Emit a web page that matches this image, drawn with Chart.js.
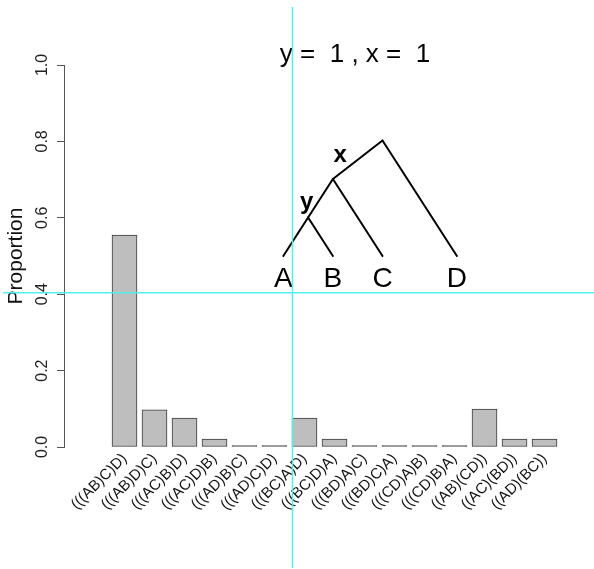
<!DOCTYPE html>
<html>
<head>
<meta charset="utf-8">
<script src="https://cdn.jsdelivr.net/npm/chart.js@4/dist/chart.umd.min.js"></script>
<style>
  html, body { margin: 0; padding: 0; background: #fff; }
  #wrap { width: 594px; height: 569px; }
</style>
</head>
<body>
<div id="wrap"><canvas id="chart" width="594" height="569"></canvas></div>
<script>
// tree topologies and their proportions
var topologies = ["(((AB)C)D)", "(((AB)D)C)", "(((AC)B)D)", "(((AC)D)B)", "(((AD)B)C)", "(((AD)C)D)",
                  "(((BC)A)D)", "(((BC)D)A)", "(((BD)A)C)", "(((BD)C)A)", "(((CD)A)B)", "(((CD)B)A)",
                  "((AB)(CD))", "((AC)(BD))", "((AD)(BC))"];
var proportions = [0.555, 0.097, 0.076, 0.021, 0, 0, 0.076, 0.021, 0, 0, 0, 0, 0.099, 0.021, 0.021];
var yTicks = [0, 0.2, 0.4, 0.6, 0.8, 1.0];

// inset tree (tree units)
var tipNames = ["A", "B", "C", "D"];
var tipX = [0, 2, 4, 7];
var nodeX = [1, 2, 4];   // y node, x node, root
var nodeY = [1, 2, 3];
// edges: [fromX, fromY, toX, toY] built from tips/nodes
var edges = [
    [tipX[0], 0, nodeX[0], nodeY[0]],
    [tipX[1], 0, nodeX[0], nodeY[0]],
    [nodeX[0], nodeY[0], nodeX[1], nodeY[1]],
    [tipX[2], 0, nodeX[1], nodeY[1]],
    [nodeX[1], nodeY[1], nodeX[2], nodeY[2]],
    [tipX[3], 0, nodeX[2], nodeY[2]]
];
var branchNames = ["y", "x"];
var branchLabelX = [0.94, 2.29];
var branchLabelY = [1.21, 2.45];
var branchValues = [1, 1];

var FONT = "'Liberation Sans', Arial, Helvetica, sans-serif";

var insetPlugin = {
    id: 'inset',
    afterDraw: function(chart) {
        var ctx = chart.ctx;
        var ox = 283.3, oy = 256, ux = 24.8, uy = 38.5;
        var px = function(v) { return ox + v * ux; };
        var py = function(v) { return oy - v * uy; };
        ctx.save();
        // title
        ctx.fillStyle = '#000';
        ctx.font = '26px ' + FONT;
        ctx.textAlign = 'center';
        ctx.textBaseline = 'alphabetic';
        var title = branchNames[0] + ' =  ' + branchValues[0] + ' , ' + branchNames[1] + ' =  ' + branchValues[1];
        ctx.fillText(title, 355, 62);
        // tree
        ctx.strokeStyle = '#000';
        ctx.lineWidth = 2;
        ctx.lineCap = 'round';
        edges.forEach(function(e) {
            ctx.beginPath();
            ctx.moveTo(px(e[0]), py(e[1]));
            ctx.lineTo(px(e[2]), py(e[3]));
            ctx.stroke();
        });
        ctx.font = '28px ' + FONT;
        tipNames.forEach(function(n, i) {
            ctx.fillText(n, px(tipX[i]), 286.5);
        });
        ctx.font = 'bold 24px ' + FONT;
        branchNames.forEach(function(n, i) {
            ctx.fillText(n, px(branchLabelX[i]), py(branchLabelY[i]));
        });
        // cyan guide lines
        ctx.strokeStyle = '#55EEEE';
        ctx.lineWidth = 1.5;
        ctx.lineCap = 'butt';
        ctx.beginPath();
        ctx.moveTo(292.5, 7); ctx.lineTo(292.5, 568);
        ctx.moveTo(3, 292.7); ctx.lineTo(594, 292.7);
        ctx.stroke();
        ctx.restore();
    }
};

var ctx = document.getElementById('chart').getContext('2d');
var myChart = new Chart(ctx, {
    type: 'bar',
    data: {
        datasets: [{
            data: proportions.map(function(v, i) { return { x: i + 1, y: v }; }),
            // zero bars show as a flat dark line like R does
            backgroundColor: function(c) { return c.raw && c.raw.y === 0 ? '#3a3a3a' : '#BEBEBE'; },
            borderColor: '#3a3a3a',
            borderWidth: 1,
            borderSkipped: false,
            barThickness: 25,
            minBarLength: 1.5,
            clip: false
        }]
    },
    options: {
        responsive: false,
        devicePixelRatio: 1,
        animation: false,
        layout: { padding: { top: 65, right: 14, bottom: 0, left: 0 } },
        plugins: {
            legend: { display: false },
            tooltip: { enabled: false }
        },
        scales: {
            x: {
                type: 'linear',
                offset: false,
                min: -1.0167,
                max: 16.183,
                grid: { display: false },
                border: { display: false },
                afterBuildTicks: function(scale) {
                    scale.ticks = topologies.map(function(t, i) { return { value: i + 1 }; });
                },
                afterFit: function(scale) { scale.height = 122; },
                ticks: {
                    autoSkip: false,
                    minRotation: 45,
                    maxRotation: 45,
                    padding: -5,
                    color: '#111',
                    font: { family: FONT, size: 15 },
                    callback: function(v) { return topologies[v - 1]; }
                }
            },
            y: {
                min: 0,
                max: 1,
                afterBuildTicks: function(scale) {
                    scale.ticks = yTicks.map(function(v) { return { value: v }; });
                },
                afterFit: function(scale) { scale.width = 64; },
                grid: {
                    drawOnChartArea: false,
                    drawTicks: true,
                    tickLength: 7,
                    color: '#555'
                },
                border: { display: true, color: '#555', width: 1 },
                title: {
                    display: true,
                    text: 'Proportion',
                    color: '#111',
                    font: { family: FONT, size: 21 },
                    padding: { top: 4, bottom: 0 }
                },
                ticks: {
                    minRotation: 90,
                    maxRotation: 90,
                    crossAlign: 'center',
                    padding: 3,
                    color: '#222',
                    font: { family: FONT, size: 16 },
                    callback: function(v) { return v.toFixed(1); }
                }
            }
        }
    },
    plugins: [insetPlugin]
});
</script>
</body>
</html>
